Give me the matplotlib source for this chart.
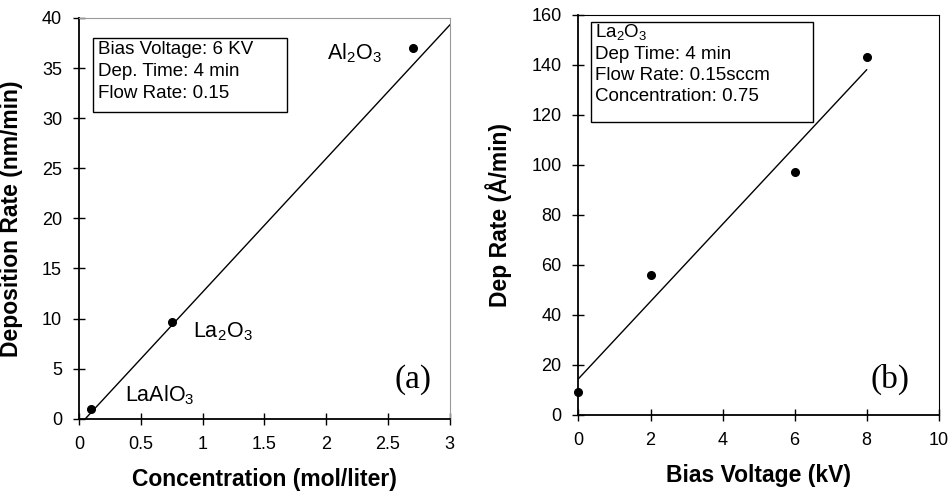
import matplotlib
matplotlib.use('Agg')
import matplotlib.pyplot as plt
from matplotlib.patches import Rectangle
from matplotlib.ticker import FormatStrFormatter
import numpy as np

plt.rcParams['font.family'] = ['Liberation Sans', 'DejaVu Sans']
plt.rcParams['mathtext.fontset'] = 'custom'
plt.rcParams['mathtext.rm'] = 'Liberation Sans'
plt.rcParams['mathtext.it'] = 'Liberation Sans'

# (a) deposition rate vs concentration
conc = [0.1, 0.75, 2.7]
dep_rate = [1.0, 9.7, 37.0]
materials = ['LaAlO$_3$', 'La$_2$O$_3$', 'Al$_2$O$_3$']
fit_a_x = [0.05, 3.0]
fit_a_y = [0.0, 39.3]

# (b) dep rate vs bias voltage
bias = [0, 2, 6, 8]
dep_rate_b = [9, 56, 97, 143]

box_a = ['Bias Voltage: 6 KV', 'Dep. Time: 4 min', 'Flow Rate: 0.15']
box_b = ['La$_2$O$_3$', 'Dep Time: 4 min', 'Flow Rate: 0.15sccm', 'Concentration: 0.75']

fig = plt.figure(figsize=(9.53, 4.98), dpi=100)
ax1 = fig.add_axes([0.083, 0.159, 0.389, 0.805])
ax2 = fig.add_axes([0.607, 0.167, 0.378, 0.803])

# panel a
ax1.plot(fit_a_x, fit_a_y, color='black', lw=1)
ax1.plot(conc, dep_rate, 'o', color='black', ms=5.5)
label_pos = [(0.37, 2.4), (0.92, 8.7), (2.01, 36.5)]
for name, (lx, ly) in zip(materials, label_pos):
    ax1.text(lx, ly, name, fontsize=15.5, va='center', ha='left')
ax1.add_patch(Rectangle((0.113, 30.6), 1.57, 7.4, fill=False, lw=1, ec='black'))
ax1.text(0.15, 37.7, '\n'.join(box_a), fontsize=13.5, va='top', ha='left', linespacing=1.37)
ax1.text(2.7, 3.9, '(a)', fontsize=24, family='Liberation Serif', ha='center', va='center')
ax1.set_xlim(0, 3)
ax1.set_ylim(0, 40)
ax1.set_xticks(np.arange(0, 3.01, 0.5))
ax1.set_yticks(np.arange(0, 41, 5))
ax1.xaxis.set_major_formatter(FormatStrFormatter('%g'))
ax1.set_xlabel('Concentration (mol/liter)', fontsize=16.5, fontweight='bold', labelpad=11)
ax1.set_ylabel('Deposition Rate (nm/min)', fontsize=16.5, fontweight='bold', labelpad=14)
for s in ['top', 'right']:
    ax1.spines[s].set_color('#999999')
    ax1.spines[s].set_linewidth(0.8)

# panel b
slope, intercept = np.polyfit(bias, dep_rate_b, 1)
xs = np.array([min(bias), max(bias)])
ax2.plot(xs, slope * xs + intercept, color='black', lw=1)
ax2.plot(bias, dep_rate_b, 'o', color='black', ms=5.5, clip_on=False, zorder=5)
ax2.add_patch(Rectangle((0.35, 117.3), 6.17, 40.0, fill=False, lw=1, ec='black'))
ax2.text(0.45, 157.0, '\n'.join(box_b), fontsize=13.5, va='top', ha='left', linespacing=1.3)
ax2.text(8.64, 14, '(b)', fontsize=24, family='Liberation Serif', ha='center', va='center')
ax2.set_xlim(0, 10)
ax2.set_ylim(0, 160)
ax2.set_xticks(np.arange(0, 11, 2))
ax2.set_yticks(np.arange(0, 161, 20))
ax2.set_xlabel('Bias Voltage (kV)', fontsize=16.5, fontweight='bold', labelpad=11)
ax2.set_ylabel('Dep Rate (Å/min)', fontsize=16.5, fontweight='bold', labelpad=14)

for ax in (ax1, ax2):
    ax.tick_params(direction='inout', length=8.5, width=1, labelsize=13, pad=8)
    ax.spines['left'].set_linewidth(1.3)
    ax.spines['bottom'].set_linewidth(1.3)

fig.savefig('out.png', dpi=100)
